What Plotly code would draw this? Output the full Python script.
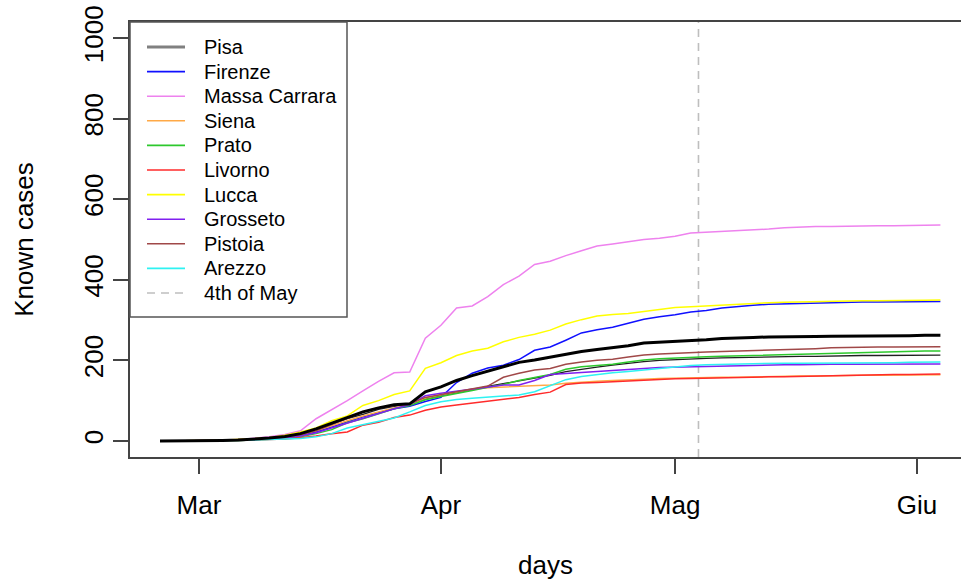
import pandas as pd
import plotly.graph_objects as go

# dates: every 2 days from 25 Feb to 4 Jun 2020
dates = pd.date_range("2020-02-25", "2020-06-04", freq="2D")

pisa = [0, 0, 0, 1, 2, 3, 5, 8, 12, 18, 28, 42, 55, 66, 78, 86, 92, 105, 112, 120, 127, 135, 142, 150, 157, 163,
        172, 178, 183, 188, 193, 197, 200, 202, 204, 205, 206, 207, 208, 209, 209, 210, 210, 211, 211, 212, 212, 212, 213, 213, 213]
firenze = [0, 0, 0, 0, 1, 2, 3, 5, 8, 13, 22, 35, 48, 60, 70, 80, 86, 98, 108, 145, 168, 181, 188, 202, 225, 233,
           250, 268, 276, 282, 292, 302, 308, 313, 320, 324, 330, 334, 337, 339, 340, 342, 343, 344, 344, 345, 345, 345, 345, 346, 346]
massa = [0, 0, 0, 0, 1, 3, 6, 10, 16, 25, 55, 77, 100, 124, 148, 169, 171, 255, 287, 330, 335, 358, 388, 409, 438, 446,
         460, 472, 484, 489, 494, 500, 503, 508, 516, 518, 519, 521, 523, 526, 529, 531, 532, 532, 533, 533, 534, 534, 535, 535, 536]
siena = [0, 0, 0, 1, 2, 3, 5, 8, 12, 17, 25, 38, 50, 62, 72, 82, 90, 106, 114, 121, 128, 132, 134, 136, 138, 139,
         143, 146, 148, 150, 151, 153, 155, 156, 157, 157, 158, 158, 159, 160, 160, 161, 161, 162, 162, 163, 163, 163, 164, 164, 164]
prato = [0, 0, 0, 0, 0, 1, 2, 4, 6, 10, 18, 28, 45, 55, 68, 80, 88, 102, 110, 117, 125, 133, 140, 150, 158, 165,
         178, 184, 187, 190, 196, 201, 204, 206, 208, 209, 210, 211, 212, 214, 215, 216, 217, 218, 219, 220, 221, 222, 222, 223, 223]
livorno = [0, 0, 0, 0, 0, 1, 2, 3, 5, 8, 12, 18, 22, 39, 46, 58, 64, 76, 84, 89, 94, 99, 103, 108, 115, 121,
           140, 144, 145, 147, 149, 151, 153, 154, 155, 156, 157, 157, 158, 159, 159, 160, 161, 162, 163, 164, 164, 165, 165, 166, 166]
lucca = [0, 0, 0, 1, 2, 3, 5, 8, 14, 22, 32, 50, 62, 88, 100, 115, 124, 180, 194, 212, 223, 230, 246, 257, 265, 275,
         290, 301, 310, 314, 316, 321, 326, 331, 333, 335, 337, 340, 342, 343, 344, 345, 346, 347, 347, 348, 348, 348, 349, 349, 350]
grosseto = [0, 0, 0, 0, 1, 2, 3, 5, 8, 12, 20, 32, 45, 57, 68, 80, 90, 112, 118, 123, 128, 134, 139, 139, 150, 165,
            167, 170, 172, 175, 178, 180, 182, 183, 184, 185, 186, 187, 188, 188, 189, 189, 190, 190, 190, 190, 191, 191, 191, 191, 191]
pistoia = [0, 0, 0, 0, 1, 2, 4, 6, 10, 15, 25, 40, 56, 72, 82, 88, 92, 108, 115, 122, 128, 136, 158, 168, 176, 180,
           190, 196, 200, 203, 208, 213, 216, 218, 220, 221, 222, 223, 224, 225, 226, 227, 229, 231, 232, 233, 233, 233, 233, 234, 234]
arezzo = [0, 0, 0, 0, 0, 1, 2, 3, 4, 6, 10, 18, 32, 40, 48, 57, 72, 88, 97, 103, 106, 109, 111, 114, 122, 138,
          152, 160, 165, 169, 172, 176, 180, 184, 187, 189, 190, 191, 192, 192, 193, 193, 193, 193, 194, 194, 194, 194, 195, 195, 196]
average = [0, 0, 0, 0, 1, 2, 4, 7, 11, 18, 30, 44, 57, 72, 82, 90, 92, 122, 134, 150, 162, 173, 183, 195, 201, 208,
           216, 222, 227, 231, 236, 243, 245, 246, 248, 251, 254, 256, 257, 258, 258, 259, 259, 260, 260, 261, 261, 261, 261, 262, 262]

names = ["Pisa", "Firenze", "Massa Carrara", "Siena", "Prato", "Livorno", "Lucca", "Grosseto", "Pistoia", "Arezzo"]
series = [pisa, firenze, massa, siena, prato, livorno, lucca, grosseto, pistoia, arezzo]
plot_colors = ["#202020", "#1010FF", "#EE82EE", "#FFA947", "#2DC82D", "#FF2B2B", "#FFFF00", "#8020F0", "#A04848", "#2EF2F2"]
legend_colors = ["#808080"] + plot_colors[1:]

ref_day = "2020-05-04"
ref_label = "4th of May"

xtick_vals = ["2020-03-01", "2020-04-01", "2020-05-01", "2020-06-01"]
xtick_text = ["Mar", "Apr", "Mag", "Giu"]
ytick_vals = [0, 200, 400, 600, 800, 1000]

FONT = "Liberation Sans, Arial, Helvetica, sans-serif"
W, H = 961, 582
ML, MR, MT, MB = 130, 0, 22, 125
PW, PH = W - ML - MR, H - MT - MB


def px(xp):
    return (xp - ML) / PW


def py(yp):
    return (H - MB - yp) / PH


fig = go.Figure()

for name, vals, col in zip(names, series, plot_colors):
    fig.add_trace(go.Scatter(x=dates, y=vals, mode="lines", name=name,
                             line=dict(color=col, width=1.5 if name != "Pisa" else 1.3),
                             showlegend=False, hoverinfo="skip"))
fig.add_trace(go.Scatter(x=dates, y=average, mode="lines", name="mean",
                         line=dict(color="#000000", width=3.0), showlegend=False, hoverinfo="skip"))

fig.add_shape(type="line", x0=ref_day, x1=ref_day, y0=0, y1=1, xref="x", yref="y domain",
              line=dict(color="#BEBEBE", width=1.6, dash="8px,6px"), layer="below")

# legend box (drawn like R's legend("topleft"))
fig.add_shape(type="rect", xref="paper", yref="paper", x0=px(130), x1=px(347), y0=py(317), y1=py(22),
              line=dict(color="#555555", width=1.5), fillcolor="white", layer="above")
leg_labels = names + [ref_label]
leg_cols = legend_colors + ["#BEBEBE"]
leg_widths = [3] + [1.6] * 9 + [1.6]
leg_dash = ["solid"] * 10 + ["8px,6px"]
for i, (lab, col, lw, ds) in enumerate(zip(leg_labels, leg_cols, leg_widths, leg_dash)):
    yc = 47 + 24.6 * i
    fig.add_shape(type="line", xref="paper", yref="paper", x0=px(147), x1=px(185), y0=py(yc), y1=py(yc),
                  line=dict(color=col, width=lw, dash=ds), layer="above")
    fig.add_annotation(xref="paper", yref="paper", x=px(202), y=py(yc), text=lab, showarrow=False,
                       xanchor="left", yanchor="middle", font=dict(size=20, family=FONT, color="#000000"))

fig.update_layout(
    width=W, height=H,
    margin=dict(l=ML, r=MR, t=MT, b=MB),
    plot_bgcolor="white", paper_bgcolor="white",
    font=dict(family=FONT, color="#000000"),
    showlegend=False,
    xaxis=dict(type="date", range=["2020-02-21 03:47", "2020-06-06 15:19"],
               tickvals=xtick_vals, ticktext=xtick_text,
               ticks="outside", ticklen=15, tickwidth=1.5, tickcolor="#444444",
               showline=True, linecolor="#444444", linewidth=1.5, mirror=True,
               showgrid=False, zeroline=False, tickfont=dict(size=26),
               ticklabelstandoff=9,
               title=dict(text="days", font=dict(size=26), standoff=37)),
    yaxis=dict(range=[-40, 1040], tickvals=ytick_vals,
               ticks="outside", ticklen=15, tickwidth=1.5, tickcolor="#444444",
               showline=True, linecolor="#444444", linewidth=1.5, mirror=False,
               showgrid=False, zeroline=False, tickfont=dict(size=26), tickangle=-90,
               title=dict(text="Known cases", font=dict(size=26), standoff=38)),
)

fig.write_html("out.html")
